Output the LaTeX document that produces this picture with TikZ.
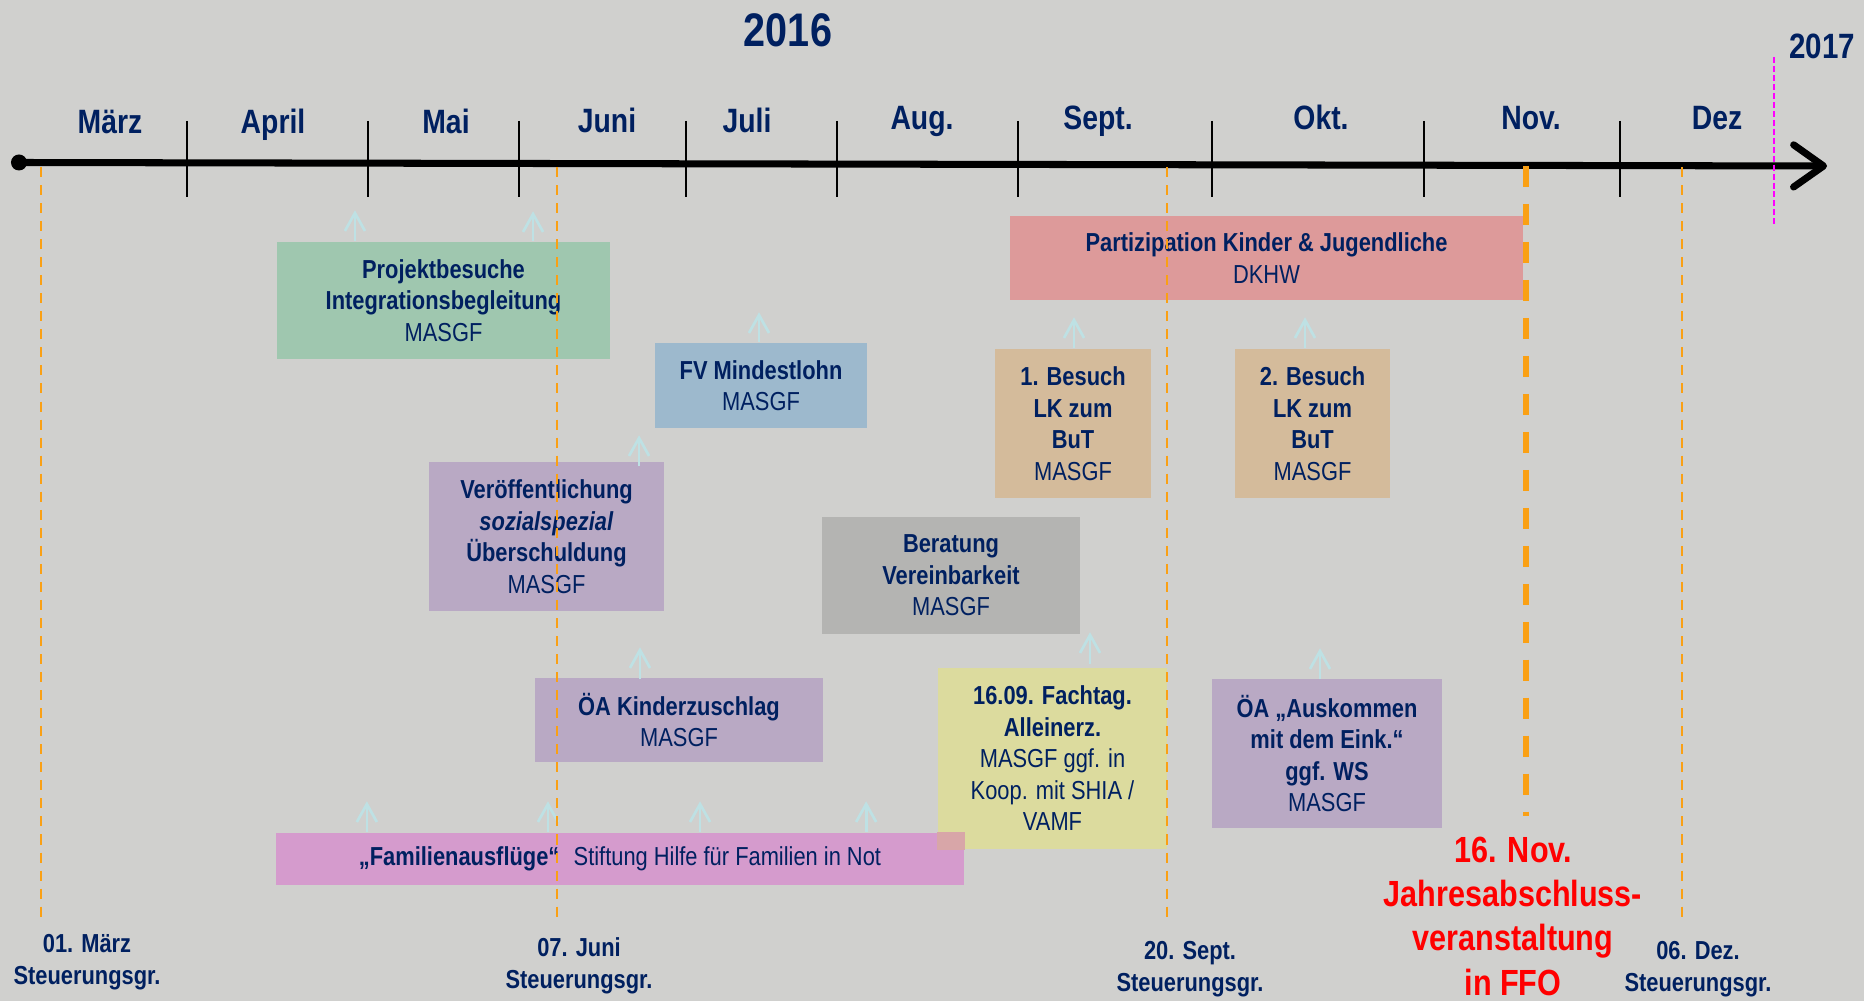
\documentclass[tikz,border=0pt]{standalone}
\usepackage{fontspec}
\setmainfont{Liberation Sans}[FakeStretch=0.84]
\usetikzlibrary{arrows.meta}
\definecolor{bg}{RGB}{208,208,206}
\definecolor{navy}{RGB}{0,32,96}
\definecolor{cgreen}{RGB}{159,199,175}
\definecolor{cblue}{RGB}{157,185,205}
\definecolor{cpink}{RGB}{221,154,154}
\definecolor{ctan}{RGB}{212,187,155}
\definecolor{cpurple}{RGB}{185,169,196}
\definecolor{cgray}{RGB}{180,180,178}
\definecolor{cyellow}{RGB}{220,219,158}
\definecolor{cmag}{RGB}{213,155,205}
\definecolor{coverlap}{RGB}{216,166,168}
\definecolor{corange}{RGB}{250,160,20}
\definecolor{carrow}{RGB}{190,225,228}
\definecolor{cmagenta}{RGB}{255,0,255}
\newcommand\bxfont{\fontsize{7.4}{8.96}\selectfont}
\begin{document}
\begin{tikzpicture}[x=0.01cm,y=-0.01cm,
 box/.style={rectangle,inner sep=0pt,align=center,text=navy,font=\bxfont},
 month/.style={anchor=base,text=navy,font=\fontsize{9.6}{11}\selectfont\bfseries},
 steer/.style={align=center,text=navy,font=\fontsize{7.4}{9.1}\selectfont\bfseries,inner sep=0pt},
 tickln/.style={line width=0.6pt,black},
 dashthin/.style={corange,line width=0.77pt,dash pattern=on 2.85pt off 2.28pt},
 dashthick/.style={corange,line width=1.5pt,dash pattern=on 6.1pt off 4.7pt},
 uparr/.style={carrow,line width=0.77pt,-{Straight Barb[length=5.1pt,width=5.7pt]}},
 axisln/.style={black,line width=2pt,-{Straight Barb[length=8.5pt,width=12pt,round]}},
]
\useasboundingbox (0,0) rectangle (1864,1001);
\fill[bg] (0,0) rectangle (1864,1001);

% boxes
\node[box,fill=cgreen,minimum width=3.33cm,minimum height=1.17cm] (proj) at (443.5,300.5)
  {\textbf{Projektbesuche}\\\textbf{Integrationsbegleitung}\\MASGF};
\node[box,fill=cblue,minimum width=2.12cm,minimum height=0.85cm] (fv) at (761,385.5)
  {\textbf{FV Mindestlohn}\\MASGF};
\node[box,fill=cpink,minimum width=5.13cm,minimum height=0.84cm] (part) at (1266.5,258)
  {\textbf{Partizipation Kinder \& Jugendliche}\\DKHW};
\node[box,fill=ctan,minimum width=1.56cm,minimum height=1.49cm] (bes1) at (1073,423.5)
  {\textbf{1. Besuch}\\\textbf{LK zum}\\\textbf{BuT}\\MASGF};
\node[box,fill=ctan,minimum width=1.55cm,minimum height=1.49cm] (bes2) at (1312.5,423.5)
  {\textbf{2. Besuch}\\\textbf{LK zum}\\\textbf{BuT}\\MASGF};
\node[box,fill=cpurple,minimum width=2.35cm,minimum height=1.49cm] (ver) at (546.5,536.5)
  {\textbf{Veröffentlichung}\\\textbf{\textit{sozialspezial}}\\\textbf{Überschuldung}\\MASGF};
\node[box,fill=cgray,minimum width=2.58cm,minimum height=1.17cm] (ber) at (951,575.5)
  {\textbf{Beratung}\\\textbf{Vereinbarkeit}\\MASGF};
\node[box,fill=cpurple,minimum width=2.88cm,minimum height=0.84cm] (oak) at (679,720)
  {\textbf{ÖA Kinderzuschlag}\\MASGF};
\node[box,fill=cyellow,minimum width=2.29cm,minimum height=1.81cm] (fach) at (1052.5,758.5)
  {\textbf{16.09. Fachtag.}\\\textbf{Alleinerz.}\\MASGF ggf. in\\Koop. mit SHIA /\\VAMF};
\node[box,fill=cpurple,minimum width=2.30cm,minimum height=1.49cm] (oaa) at (1327,753.5)
  {\textbf{ÖA „Auskommen}\\\textbf{mit dem Eink.“}\\\textbf{ggf. WS}\\MASGF};
\node[box,fill=cmag,minimum width=6.88cm,minimum height=0.52cm] (fam) at (620,859)
  {\textbf{„Familienausflüge“}\hspace{0.55em}Stiftung Hilfe für Familien in Not};
\begin{scope}
  \clip (fach.north west) rectangle (fach.south east);
  \fill[coverlap] (fam.north west) rectangle (fam.south east);
\end{scope}

% small arrows
\draw[uparr] ([xshift=-0.885cm]proj.north) -- ++(0,-31);
\draw[uparr] ([xshift=0.895cm]proj.north) -- ++(0,-30);
\draw[uparr] ([xshift=-0.02cm]fv.north) -- ++(0,-30);
\draw[uparr] ([xshift=0.01cm]bes1.north) -- ++(0,-31);
\draw[uparr] ([xshift=-0.075cm]bes2.north) -- ++(0,-31);
\draw[uparr] ([xshift=0.925cm,yshift=-0.05cm]ver.north) -- ++(0,-31);
\draw[uparr] ([xshift=-0.39cm,yshift=-0.02cm]oak.north) -- ++(0,-32);
\draw[uparr] ([xshift=-2.53cm]fam.north) -- ++(0,-31);
\draw[uparr] ([xshift=-0.72cm]fam.north) -- ++(0,-31);
\draw[uparr] ([xshift=0.80cm]fam.north) -- ++(0,-31);
\draw[uparr] ([xshift=2.46cm]fam.north) -- ++(0,-31);
\draw[uparr] ([xshift=0.375cm,yshift=0.03cm]fach.north) -- ++(0,-32);
\draw[uparr] ([xshift=-0.07cm,yshift=-0.01cm]oaa.north) -- ++(0,-31);

% axis
\node[circle,fill=black,minimum size=0.16cm,inner sep=0pt] (ax0) at (19,162.5) {};
\coordinate (ax1) at (1827,166);
\draw[axisln] (ax0.center) -- (ax1);
\foreach \x in {187,368,519,686,837,1018,1212,1424,1620}
  \draw[tickln] (\x,121) -- (\x,197);

% months
\node[month] (mmar) at (110,134) {März};
\node[month] (mapr) at (273,134) {April};
\node[month] (mmai) at (446,134) {Mai};
\node[month] (mjun) at (607,133) {Juni};
\node[month] (mjul) at (747,133) {Juli};
\node[month] (maug) at (922,130) {Aug.};
\node[month] (msep) at (1098,130) {Sept.};
\node[month] (mokt) at (1321,130) {Okt.};
\node[month] (mnov) at (1531,130) {Nov.};
\node[month] (mdez) at (1717,130) {Dez};

% years
\node[anchor=base,text=navy,font=\fontsize{13.4}{16}\selectfont\bfseries] (y2016) at (788,47) {2016};
\node[anchor=base,text=navy,font=\fontsize{10}{12}\selectfont\bfseries] (y2017) at (1822,59) {2017};

% dashed lines
\coordinate (d1a) at (41,167);   \coordinate (d1b) at (41,923);
\coordinate (d2a) at (557,167);  \coordinate (d2b) at (557,920);
\coordinate (d3a) at (1167,167); \coordinate (d3b) at (1167,923);
\coordinate (d4a) at (1682,167); \coordinate (d4b) at (1682,923);
\coordinate (d5a) at (1526,166); \coordinate (d5b) at (1526,816);
\coordinate (mg1) at (1774,57);  \coordinate (mg2) at (1774,225);
\draw[dashthin] (d1a) -- (d1b);
\draw[dashthin] (d2a) -- (d2b);
\draw[dashthin] (d3a) -- (d3b);
\draw[dashthin] (d4a) -- (d4b);
\draw[dashthick] (d5a) -- (d5b);
\draw[cmagenta,line width=0.57pt,dash pattern=on 1.7pt off 0.85pt] (mg1) -- (mg2);

% bottom labels
\node[steer] (st1) at (87,962) {01. März\\Steuerungsgr.};
\node[steer] (st2) at (579,966) {07. Juni\\Steuerungsgr.};
\node[steer] (st3) at (1190,969) {20. Sept.\\Steuerungsgr.};
\node[steer] (st4) at (1698,969) {06. Dez.\\Steuerungsgr.};
\node[anchor=north,align=center,text=red,font=\fontsize{10.35}{12.6}\selectfont\bfseries,inner sep=0pt] (jah) at (1513,836)
  {16. Nov.\\Jahresabschluss-\\veranstaltung\\in FFO};
\end{tikzpicture}
\end{document}
